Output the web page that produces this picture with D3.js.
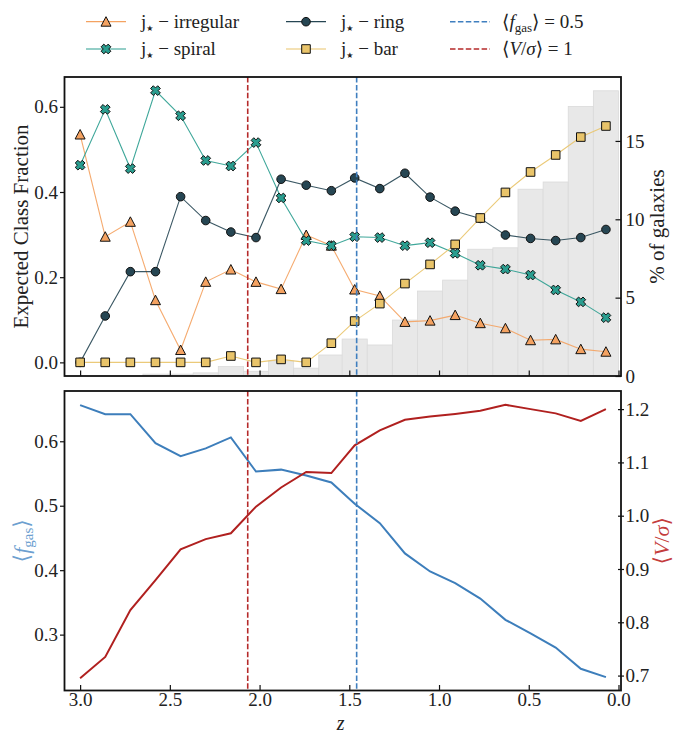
<!DOCTYPE html>
<html><head><meta charset="utf-8">
<script src="https://cdn.jsdelivr.net/npm/d3@7"></script>
<style>
body{margin:0;background:#fff;}
svg text{font-family:"Liberation Serif","DejaVu Serif",serif;fill:#222;}
svg text tspan.star{font-family:"DejaVu Sans",sans-serif;}
</style></head>
<body><svg id="c" width="676" height="733"></svg>
<script>
const zVals = [3.00,2.86,2.72,2.58,2.44,2.30,2.16,2.02,1.88,1.74,1.60,1.47,1.33,1.19,1.05,0.91,0.77,0.63,0.49,0.35,0.21,0.07];
const irregular = [0.535,0.295,0.330,0.146,0.029,0.189,0.218,0.189,0.172,0.299,0.274,0.171,0.156,0.095,0.098,0.111,0.092,0.080,0.052,0.054,0.031,0.025];
const spiral = [0.463,0.594,0.455,0.638,0.579,0.474,0.461,0.516,0.386,0.286,0.274,0.295,0.293,0.274,0.281,0.256,0.228,0.219,0.205,0.170,0.142,0.105];
const ring = [0.000,0.109,0.213,0.213,0.389,0.333,0.306,0.293,0.430,0.416,0.403,0.433,0.408,0.444,0.388,0.355,0.338,0.299,0.291,0.286,0.293,0.312];
const bar = [0,0,0,0,0,0,0.015,0,0.007,0,0.045,0.097,0.138,0.185,0.230,0.277,0.339,0.399,0.447,0.487,0.529,0.555];
const pctGalaxies = [0,0,0,0.12,0.12,0.2,0.6,0.3,0.96,0.5,1.34,2.36,1.98,3.57,5.42,6.12,8.09,8.18,11.92,12.38,17.2,18.2];
const fgas = [0.656,0.642,0.642,0.597,0.577,0.589,0.606,0.553,0.556,0.547,0.536,0.503,0.473,0.426,0.398,0.380,0.356,0.323,0.302,0.280,0.247,0.234];
const vsig = [0.695,0.735,0.823,0.879,0.937,0.956,0.967,1.017,1.053,1.082,1.080,1.132,1.160,1.180,1.186,1.191,1.197,1.208,1.200,1.192,1.178,1.200];
const zFgasHalf = 1.459;
const zVsigOne = 2.066;
const xTicks = [3.0,2.5,2.0,1.5,1.0,0.5,0.0];
const topLeftTicks = [0.0,0.2,0.4,0.6];
const topRightTicks = [0,5,10,15];
const botLeftTicks = [0.3,0.4,0.5,0.6];
const botRightTicks = [0.7,0.8,0.9,1.0,1.1,1.2];

const seriesNames = ["irregular","spiral","ring","bar"];
const seriesVals = [irregular, spiral, ring, bar];
const seriesColors = ["#f4a261","#2a9d8f","#264653","#e9c46a"];
const seriesShapes = ["tri","x","circle","square"];

const svg = d3.select("#c");
const L = 64.5, R = 621, T1 = 77, B1 = 376, T2 = 391, B2 = 690.5;

const x = d3.scaleLinear().domain([3.087, -0.014]).range([L, R]);
const yTop = d3.scaleLinear().domain([-0.032, 0.670]).range([B1, T1]);
const yPct = d3.scaleLinear().domain([0, 19.08]).range([B1, T1]);
const yF = d3.scaleLinear().domain([0.2133, 0.678]).range([B2, T2]);
const yV = d3.scaleLinear().domain([0.672, 1.234]).range([B2, T2]);

const blueDash = "#3f7fbf", redDash = "#b52a2a";
const blueLine = "#3d7ebb", redLine = "#b0201f";
const blueTxt = "#6d9fd0", redTxt = "#c43c3c";

svg.append("defs").append("clipPath").attr("id","cp1").append("rect").attr("x",L).attr("y",T1).attr("width",R-L).attr("height",B1-T1);

const step = Math.abs(x(zVals[1]) - x(zVals[0]));
const gTop = svg.append("g").attr("clip-path","url(#cp1)");
gTop.selectAll("rect.b").data(zVals).join("rect")
  .attr("x", d => x(d) - step/2).attr("width", step)
  .attr("y", (d,i) => yPct(pctGalaxies[i])).attr("height", (d,i) => B1 - yPct(pctGalaxies[i]))
  .attr("fill", "#e8e8e8").attr("stroke", "#dadada").attr("stroke-width", 0.8);

function markerPath(shape){
  if(shape==="tri"){ const r=5; return `M0,${-r}L${-r},${r*0.9}L${r},${r*0.9}Z`; }
  if(shape==="square"){ const r=4.3; return `M${-r},${-r}H${r}V${r}H${-r}Z`; }
  if(shape==="circle"){ return d3.symbol(d3.symbolCircle, 58)(); }
  const a=5, t=1.9;
  const pts=[[-t,-a],[t,-a],[t,-t],[a,-t],[a,t],[t,t],[t,a],[-t,a],[-t,t],[-a,t],[-a,-t],[-t,-t]];
  const c=Math.SQRT1_2;
  return "M"+pts.map(p=>[(p[0]-p[1])*c,(p[0]+p[1])*c].map(v=>v.toFixed(2)).join(",")).join("L")+"Z";
}

seriesVals.forEach((vals, k) => {
  const line = d3.line().x((d,i)=>x(zVals[i])).y(d=>yTop(d));
  gTop.append("path").attr("d", line(vals)).attr("fill","none")
    .attr("stroke", seriesColors[k]).attr("stroke-width", 1.1).attr("stroke-opacity", 0.9);
  gTop.selectAll("path.m"+k).data(vals).join("path")
    .attr("transform",(d,i)=>`translate(${x(zVals[i])},${yTop(d)})`)
    .attr("d", markerPath(seriesShapes[k]))
    .attr("fill", seriesColors[k]).attr("stroke","#111").attr("stroke-width",1);
});

const lineF = d3.line().x((d,i)=>x(zVals[i])).y(d=>yF(d));
const lineV = d3.line().x((d,i)=>x(zVals[i])).y(d=>yV(d));
svg.append("path").attr("d", lineF(fgas)).attr("fill","none").attr("stroke",blueLine).attr("stroke-width",2);
svg.append("path").attr("d", lineV(vsig)).attr("fill","none").attr("stroke",redLine).attr("stroke-width",2);

[[T1,B1],[T2,B2]].forEach(([t,b])=>{
  svg.append("line").attr("x1",x(zFgasHalf)).attr("x2",x(zFgasHalf)).attr("y1",t).attr("y2",b)
    .attr("stroke",blueDash).attr("stroke-width",1.6).attr("stroke-dasharray","5.5,2.4");
  svg.append("line").attr("x1",x(zVsigOne)).attr("x2",x(zVsigOne)).attr("y1",t).attr("y2",b)
    .attr("stroke",redDash).attr("stroke-width",1.6).attr("stroke-dasharray","5.5,2.4");
});

[[T1,B1],[T2,B2]].forEach(([t,b])=>{
  svg.append("rect").attr("x",L).attr("y",t).attr("width",R-L).attr("height",b-t)
    .attr("fill","none").attr("stroke","#111").attr("stroke-width",1.8);
});

const FS = 19;
[[T1,B1,false],[T2,B2,true]].forEach(([t,b,lab])=>{
  const g = svg.append("g").attr("transform",`translate(0,${b})`);
  const ax = d3.axisBottom(x).tickValues(xTicks).tickSize(-5.5).tickPadding(2).tickFormat(lab?d3.format(".1f"):()=>"");
  g.call(ax);
  g.attr("font-family",null).attr("font-size",null);
  g.select(".domain").remove();
  g.selectAll(".tick line").attr("stroke","#111").attr("stroke-width",1.2);
  g.selectAll(".tick text").attr("font-size",FS).attr("fill","#222");
});

function yAxis(scale, ticks, side, xpos, fmt, color, inward){
  const g = svg.append("g").attr("transform",`translate(${xpos},0)`);
  const ax = (side==="left"?d3.axisLeft(scale):d3.axisRight(scale)).tickValues(ticks).tickFormat(fmt);
  g.call(ax);
  g.attr("font-family",null).attr("font-size",null);
  g.select(".domain").remove();
  g.selectAll(".tick line").attr("stroke","#111").attr("stroke-width",1.2)
    .attr("x1", side==="left" ? -4.5 : (inward? -5.5 : -3))
    .attr("x2", side==="left" ? 0 : (inward? 0 : 3));
  g.selectAll(".tick text").attr("font-size",FS).attr("fill",color)
    .attr("x", side==="left" ? -6.5 : 4.5);
}
yAxis(yTop, topLeftTicks, "left", L, d3.format(".1f"), "#333", false);
yAxis(yPct, topRightTicks, "right", R, d3.format("d"), "#333", true);
yAxis(yF, botLeftTicks, "left", L, d3.format(".1f"), blueTxt, false);
yAxis(yV, botRightTicks, "right", R, d3.format(".1f"), redTxt, false);

function vlabel(xc, yc, color, fs){
  return svg.append("text").attr("transform",`translate(${xc},${yc}) rotate(-90)`)
    .attr("text-anchor","middle").attr("font-size",fs).style("fill",color);
}
vlabel(28, (T1+B1)/2, "#222", 21).text("Expected Class Fraction");
vlabel(664, (T1+B1)/2, "#222", 21).text("% of galaxies");
const fl = vlabel(29, (T2+B2)/2, blueTxt, 22);
fl.append("tspan").text("⟨");
fl.append("tspan").attr("font-style","italic").text("f");
fl.append("tspan").attr("font-size",15).attr("dy",4).text("gas");
fl.append("tspan").attr("dy",-4).text("⟩");
const vl = vlabel(669, (T2+B2)/2, redTxt, 22);
vl.append("tspan").text("⟨");
vl.append("tspan").attr("font-style","italic").text("V");
vl.append("tspan").text("/");
vl.append("tspan").attr("font-style","italic").text("σ");
vl.append("tspan").text("⟩");
svg.append("text").attr("x", (L+R)/2 - 2).attr("y", 730).attr("text-anchor","middle")
  .attr("font-size",20).attr("font-style","italic").text("z");

const legX = [86, 286, 450], legY = [21.7, 49];
const legTextX = [141, 341, 502];
const LFS = 19;
function jstar(t, label){
  t.append("tspan").text("j");
  t.append("tspan").attr("class","star").attr("font-size",8).attr("dy",3).text("★");
  t.append("tspan").attr("dy",-3).text(" − " + label);
}
seriesNames.forEach((nm,k)=>{
  const col = Math.floor(k/2), row = k%2;
  const y0 = legY[row];
  svg.append("line").attr("x1",legX[col]).attr("x2",legX[col]+40).attr("y1",y0).attr("y2",y0)
    .attr("stroke",seriesColors[k]).attr("stroke-width",1.2);
  svg.append("path").attr("transform",`translate(${legX[col]+20},${y0})`).attr("d",markerPath(seriesShapes[k]))
    .attr("fill",seriesColors[k]).attr("stroke","#111").attr("stroke-width",1);
  const t = svg.append("text").attr("x",legTextX[col]).attr("y",y0+6).attr("font-size",LFS);
  jstar(t, nm);
});
[[blueDash,0],[redDash,1]].forEach(([c,row])=>{
  const y0 = legY[row];
  svg.append("line").attr("x1",legX[2]).attr("x2",legX[2]+40).attr("y1",y0).attr("y2",y0)
    .attr("stroke",c).attr("stroke-width",1.6).attr("stroke-dasharray","5.5,2.4");
});
const t1 = svg.append("text").attr("x",legTextX[2]).attr("y",legY[0]+6).attr("font-size",LFS);
t1.append("tspan").text("⟨");
t1.append("tspan").attr("font-style","italic").text("f");
t1.append("tspan").attr("font-size",13).attr("dy",4).text("gas");
t1.append("tspan").attr("dy",-4).text("⟩ = 0.5");
const t2 = svg.append("text").attr("x",legTextX[2]).attr("y",legY[1]+6).attr("font-size",LFS);
t2.append("tspan").text("⟨");
t2.append("tspan").attr("font-style","italic").text("V");
t2.append("tspan").text("/");
t2.append("tspan").attr("font-style","italic").text("σ");
t2.append("tspan").text("⟩ = 1");
</script></body></html>
